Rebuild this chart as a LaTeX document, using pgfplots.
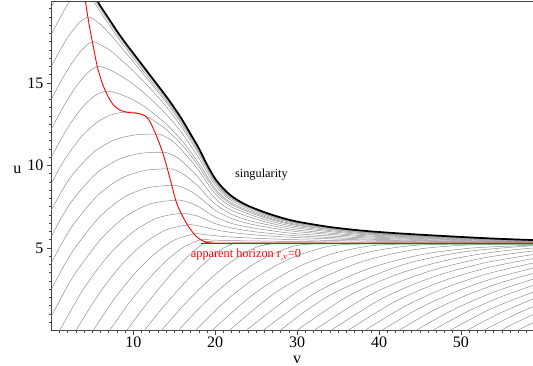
\documentclass[border=0pt]{standalone}
\usepackage{pgfplots}
\pgfplotsset{compat=1.18}
\usepackage{fontspec}
\setmainfont{Liberation Serif}
\definecolor{cgray}{RGB}{145,145,145}
\definecolor{axc}{RGB}{70,70,70}
\pgfplotsset{g/.style={color=cgray, line width=0.5pt, smooth, tension=0.5}}
\begin{document}
\begin{tikzpicture}
\begin{axis}[
 scale only axis, width=481.6pt, height=329.2pt,
 xmin=0, xmax=58.8, ymin=0, ymax=19.95,
 axis lines=left, axis line style={-, axc, line width=0.8pt},
 xtick={10,20,30,40,50}, ytick={5,10,15},
 minor xtick={1,...,58}, minor ytick={0.5,1,...,19.5},
 tick align=outside, major tick length=4.5pt, minor tick length=2.7pt,
 tick style={axc, line width=0.6pt},
 ticklabel style={font=\fontsize{16}{16}\selectfont},
 xticklabel style={yshift=1.5pt},
 /pgf/number format/assume math mode=true,
 xlabel={v}, ylabel={u},
 every axis x label/.style={at={(axis description cs:0.5102,0)}, anchor=base, yshift=-33pt, font=\fontsize{16}{16}\selectfont},
 every axis y label/.style={at={(axis description cs:0,0.5)}, anchor=base east, xshift=-26.5pt, yshift=-8pt, font=\fontsize{16}{16}\selectfont},
]
% ---- upper family (peaks on the apparent horizon)
\addplot[g] coordinates {(0,19.6) (0.8,20.35) (1.8,21.0) (3.3,21.4) (4.5,20.9) (5.42,19.95) (6,19.48) (7,18.74) (8,18.0) (10,16.66) (12,15.38) (14,14.09) (16,12.66) (18,10.98) (20,9.15) (22,8.12) (26,7.15) (30,6.58) (38,6.04) (46,5.77) (58.8,5.48)};
\addplot[g] coordinates {(0,17.95) (1,18.9) (2.1,19.85) (3.0,20.4) (3.9,20.6) (4.6,20.4) (5.18,19.95) (6,19.29) (7,18.56) (8,17.83) (10,16.51) (12,15.24) (14,13.98) (16,12.56) (18,10.91) (20,9.10) (22,8.08) (26,7.12) (30,6.57) (38,6.03) (46,5.77) (58.8,5.47)};
\addplot[g] coordinates {(0,16) (0.89,16.84) (1.78,17.59) (2.67,18.23) (3.56,18.72) (4.45,19.0) (5,18.91) (6,18.54) (7,18.05) (8,17.47) (10,16.28) (12,15.08) (14,13.84) (16,12.45) (18,10.82) (20,9.04) (22,8.03) (26,7.09) (30,6.55) (38,6.02) (46,5.76) (58.8,5.47)};
\addplot[g] coordinates {(0,14) (1,14.96) (2,15.81) (3,16.56) (4,17.15) (5,17.5) (6,17.31) (7,17.03) (8,16.63) (9,16.18) (10,15.73) (12,14.70) (14,13.58) (16,12.26) (18,10.69) (20,8.96) (22,7.97) (26,7.06) (30,6.52) (38,6.0) (46,5.75) (58.8,5.47)};
\addplot[g] coordinates {(0,12.2) (1.12,13.26) (2.24,14.21) (3.36,15.01) (4.48,15.64) (5.6,16.0) (6.5,15.91) (7.5,15.71) (8.5,15.42) (10,14.93) (12,14.09) (14,13.11) (16,11.92) (18,10.45) (20,8.81) (22,7.87) (26,6.99) (30,6.48) (38,5.98) (46,5.73) (58.8,5.46)};
\addplot[g] coordinates {(0,10.5) (1.32,11.73) (2.64,12.78) (3.96,13.62) (5.28,14.22) (6.6,14.5) (7.5,14.45) (8.5,14.30) (10,13.98) (11,13.68) (12,13.33) (14,12.52) (16,11.47) (18,10.13) (20,8.61) (22,7.73) (26,6.91) (30,6.42) (38,5.95) (46,5.71) (58.8,5.45)};
\addplot[g] coordinates {(0,8.9) (0.95,9.79) (1.9,10.57) (3.8,11.82) (5.7,12.66) (7.6,13.12) (9.5,13.25) (10.5,13.18) (11.5,13.0) (12.5,12.72) (14,12.19) (16,11.22) (18,9.95) (20,8.48) (22,7.64) (26,6.84) (30,6.37) (38,5.92) (46,5.69) (58.8,5.44)};
\addplot[g] coordinates {(0,7.3) (1.275,8.46) (2.55,9.42) (5.1,10.78) (7.65,11.54) (10.2,11.85) (12.75,11.9) (13.5,11.84) (14.5,11.57) (15.5,11.15) (17,10.31) (18,9.69) (20,8.29) (22,7.49) (26,6.73) (30,6.29) (38,5.87) (46,5.66) (58.8,5.43)};
\addplot[g] coordinates {(0,5.7) (1.355,6.95) (2.71,7.98) (5.42,9.49) (8.13,10.35) (10.84,10.73) (13.55,10.8) (14.5,10.70) (15.5,10.43) (16.5,10.01) (18,9.23) (20,8.0) (22,7.28) (26,6.60) (30,6.20) (38,5.82) (46,5.63) (58.8,5.42)};
\addplot[g] coordinates {(0,4.1) (1.415,5.41) (2.83,6.52) (5.66,8.19) (8.49,9.21) (11.32,9.69) (14.15,9.8) (15,9.74) (16,9.51) (17,9.14) (18,8.71) (19,8.15) (20,7.66) (22,7.04) (24,6.68) (26,6.45) (30,6.09) (38,5.75) (46,5.59) (58.8,5.40)};
\addplot[g] coordinates {(0,2.5) (1.47,3.87) (2.94,5.05) (5.88,6.88) (8.82,8.06) (11.76,8.65) (14.7,8.8) (15.5,8.75) (16.5,8.57) (17.5,8.28) (18.5,7.90) (20,7.29) (22,6.78) (24,6.49) (26,6.29) (30,5.99) (38,5.69) (46,5.55) (58.8,5.38)};
\addplot[g] coordinates {(0,0.85) (1.515,2.28) (3.03,3.54) (6.06,5.55) (9.09,6.92) (12.12,7.68) (15.15,7.9) (16,7.87) (17,7.72) (18,7.50) (19,7.18) (20,6.88) (22,6.49) (24,6.27) (26,6.11) (30,5.86) (38,5.62) (46,5.50) (58.8,5.36)};
\addplot[g] coordinates {(1.0,0) (3.97,2.55) (6.94,4.53) (9.91,5.95) (12.88,6.81) (15.85,7.1) (17,7.03) (18,6.91) (19,6.69) (20,6.48) (22,6.21) (24,6.04) (26,5.92) (30,5.74) (38,5.55) (46,5.45) (58.8,5.35)};
\addplot[g] coordinates {(3.0,0) (5.72,2.16) (8.44,3.91) (11.16,5.22) (13.88,6.07) (16.6,6.4) (17.5,6.38) (18.5,6.29) (19.5,6.17) (20.5,6.06) (22,5.94) (24,5.83) (26,5.75) (30,5.63) (38,5.49) (46,5.41) (58.8,5.33)};
\addplot[g] coordinates {(5.1,0) (7.56,1.83) (10.02,3.37) (12.48,4.59) (14.94,5.46) (17.4,5.85) (18.5,5.82) (19.5,5.77) (20.5,5.72) (22,5.66) (24,5.61) (26,5.57) (30,5.50) (38,5.42) (46,5.37) (58.8,5.31)};
\addplot[g] coordinates {(7.1,0) (9.32,1.56) (11.54,2.93) (13.76,4.10) (15.98,5.0) (18.2,5.5) (19.5,5.48) (21,5.46) (23,5.44) (26,5.42) (30,5.39) (38,5.35) (46,5.33) (58.8,5.30)};
\addplot[g] coordinates {(9.2,0) (11.14,1.30) (13.08,2.51) (15.02,3.64) (16.96,4.63) (18.9,5.36) (20,5.354) (22,5.348) (26,5.338) (30,5.326) (38,5.31) (58.8,5.29)};
% ---- lower family (below the event horizon)
\addplot[g] coordinates {(11.35,0) (13.49,1.33) (15.64,2.55) (17.78,3.66) (19.93,4.61) (21.0,5.0) (22.07,5.22) (24,5.26) (58.8,5.26)};
\addplot[g] coordinates {(13.42,0) (16.06,1.49) (18.69,2.81) (21.33,3.93) (23.96,4.79) (25.28,5.09) (26.6,5.22) (28.5,5.255) (58.8,5.255)};
\addplot[g] coordinates {(15.49,0) (18.75,1.70) (22.01,3.10) (25.27,4.19) (28.53,4.94) (30.16,5.16) (31.79,5.24) (34,5.25) (58.8,5.25)};
\addplot[g] coordinates {(17.56,0) (21.5,1.89) (25.44,3.36) (29.38,4.41) (33.32,5.04) (35.29,5.19) (37.26,5.24) (40,5.245) (58.8,5.245)};
\addplot[g] coordinates {(19.63,0) (24.41,2.10) (29.18,3.62) (33.96,4.60) (38.73,5.11) (43.51,5.24) (58.8,5.24)};
\addplot[g] coordinates {(21.7,0) (27.38,2.30) (33.05,3.85) (38.73,4.75) (44.4,5.16) (50.08,5.235) (58.8,5.235)};
\addplot[g] coordinates {(23.77,0) (30.63,2.55) (37.49,4.10) (44.35,4.90) (51.21,5.19) (58.1,5.23) (58.8,5.23)};
\addplot[g] coordinates {(25.84,0) (32.17,2.26) (38.5,3.71) (44.83,4.56) (51.16,4.99) (58.8,5.17)};
\addplot[g] coordinates {(27.91,0) (31.69,1.41) (35.47,2.51) (43.03,4.0) (50.59,4.78) (58.8,5.14)};
\addplot[g] coordinates {(29.98,0) (35.9,1.99) (41.81,3.33) (47.73,4.20) (53.64,4.73) (58.8,5.0)};
\addplot[g] coordinates {(32.05,0) (38.9,2.16) (45.74,3.53) (52.59,4.38) (58.8,4.82)};
\addplot[g] coordinates {(34.12,0) (40.38,1.94) (46.65,3.25) (52.91,4.10) (58.8,4.60)};
\addplot[g] coordinates {(36.19,0) (41.87,1.73) (47.54,2.95) (53.22,3.80) (58.8,4.36)};
\addplot[g] coordinates {(38.26,0) (43.24,1.49) (48.22,2.61) (53.2,3.43) (58.8,4.09)};
\addplot[g] coordinates {(40.33,0) (44.77,1.31) (49.22,2.32) (53.66,3.11) (58.8,3.78)};
\addplot[g] coordinates {(42.4,0) (46.46,1.17) (50.65,2.13) (54.71,2.87) (58.8,3.46)};
\addplot[g] coordinates {(44.47,0) (49.22,1.30) (53.97,2.32) (58.8,3.11)};
\addplot[g] coordinates {(46.54,0) (50.63,1.11) (54.72,2.01) (58.8,2.73)};
\addplot[g] coordinates {(48.61,0) (53.7,1.32) (58.8,2.32)};
\addplot[g] coordinates {(50.68,0) (54.74,1.04) (58.8,1.91)};
\addplot[g] coordinates {(52.75,0) (55.78,0.77) (58.8,1.45)};
\addplot[g] coordinates {(54.82,0) (56.81,0.50) (58.8,0.96)};
\addplot[g] coordinates {(56.89,0) (58.8,0.47)};
% ---- apparent horizon
\addplot[red, line width=0.9pt, smooth, tension=0.5] coordinates {(4.05,20.3) (4.45,19.0) (4.8,18.0) (5.2,17.0) (5.6,16.0) (6.2,15.0) (6.9,14.2) (7.6,13.65) (8.4,13.35) (9.3,13.22) (10.3,13.17) (11.0,13.1) (11.6,12.95) (12.1,12.6) (12.6,12.05) (13.1,11.45) (13.6,10.75) (14.0,10.1) (14.4,9.35) (14.8,8.6) (15.2,7.85) (15.6,7.35) (16.1,6.85) (16.6,6.4) (17.1,6.05) (17.6,5.75) (18.2,5.5) (18.9,5.36) (19.6,5.3) (21,5.28) (58.8,5.28)};
% ---- singularity
\addplot[black, line width=1.7pt, smooth, tension=0.5] coordinates {(5.5,20.1) (5.7,19.9) (6,19.65) (7,18.9) (8,18.15) (9,17.45) (10,16.8) (11,16.15) (12,15.5) (13,14.85) (14,14.2) (15,13.5) (16,12.75) (17,11.9) (18,11.05) (19,10.05) (20,9.2) (21,8.6) (22,8.15) (23,7.82) (24,7.56) (26,7.17) (28,6.85) (30,6.6) (34,6.27) (38,6.05) (42,5.9) (46,5.78) (50,5.67) (54,5.57) (58.8,5.48)};
\node[anchor=base west, font=\fontsize{12.3}{14}\selectfont] at (axis cs:22.0,9.3) {singularity};
\node[anchor=base west, text=red, font=\fontsize{12.3}{14}\selectfont] at (axis cs:16.6,4.44) {apparent horizon r\textsubscript{,v}=0};
\draw[axc, line width=0.8pt] (rel axis cs:0,1) -- (rel axis cs:1,1);
\coordinate (ll) at (rel axis cs:0,0);
\coordinate (ur) at (rel axis cs:1,1);
\end{axis}
\pgfresetboundingbox
\path ([xshift=-51.4pt,yshift=-35.5pt]ll) rectangle ([yshift=1.3pt]ur);
\end{tikzpicture}
\end{document}
